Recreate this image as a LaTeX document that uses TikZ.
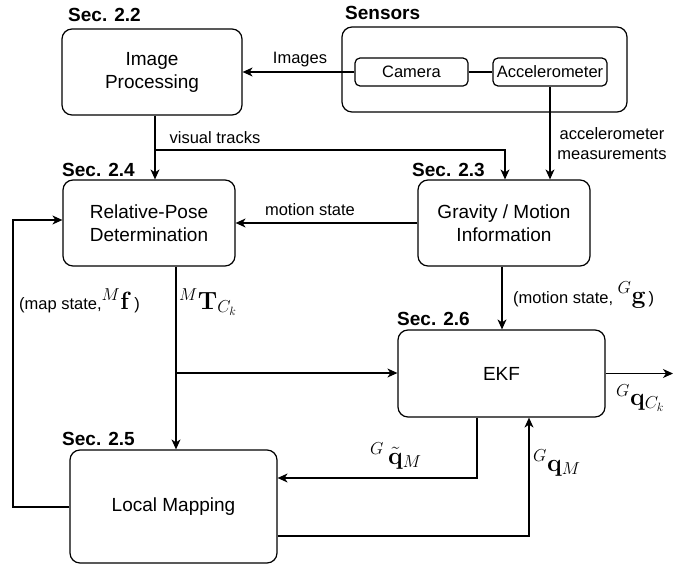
\documentclass[tikz,border=0pt]{standalone}
\usepackage[no-math]{fontspec}
\setmainfont{Liberation Sans}
\usetikzlibrary{arrows.meta,calc}
\newcommand{\boxfont}{\fontsize{19}{23}\selectfont}
\newcommand{\lblfont}{\fontsize{16.5}{20}\selectfont}
\newcommand{\secfont}{\fontsize{19}{23}\selectfont\bfseries}
\newcommand{\mathfont}{\fontsize{24}{28}\selectfont}
\newcommand{\bigmathfont}{\fontsize{27}{30}\selectfont}
\begin{document}
\begin{tikzpicture}[x=1pt,y=-1pt,
  box/.style={draw,line width=1.2pt,rounded corners=10pt,align=center,font=\boxfont,inner sep=0pt},
  smallbox/.style={draw,line width=1.2pt,rounded corners=5pt,align=center,font=\lblfont,inner sep=0pt},
  conn/.style={line width=1.2pt},
  arr/.style={line width=1.2pt,-{Stealth[length=10pt,width=9pt,inset=3pt]}},
  lbl/.style={font=\lblfont,inner sep=0pt,align=center},
  sec/.style={font=\secfont,inner sep=0pt,anchor=west},
  mlbl/.style={font=\mathfont,inner sep=0pt}]
\useasboundingbox (0,0) rectangle (683,568);
% boxes
\node[box,minimum width=180pt,minimum height=86pt] (imgproc) at (152,72) {Image\\Processing};
\node[box,minimum width=285pt,minimum height=85pt] (sensors) at (484.5,69.5) {};
\node[smallbox,minimum width=113pt,minimum height=28pt] (cam) at (411.5,72) {Camera};
\node[smallbox,minimum width=114pt,minimum height=28pt] (acc) at (550,72) {Accelerometer};
\node[box,minimum width=172pt,minimum height=86pt] (relpose) at (149,223) {Relative-Pose\\Determination};
\node[box,minimum width=172pt,minimum height=86pt] (grav) at (504,223) {Gravity / Motion\\Information};
\node[box,minimum width=207pt,minimum height=87pt] (ekf) at (501.5,373.5) {EKF};
\node[box,minimum width=207pt,minimum height=113pt] (locmap) at (173.5,506.5) {Local Mapping};
% section labels
\node[sec] (s22) at (68,15) {Sec. 2.2};
\node[sec] (ssens) at (345,13) {Sensors};
\node[sec] (s24) at (62,170) {Sec. 2.4};
\node[sec] (s23) at (412,170) {Sec. 2.3};
\node[sec] (s26) at (397,319) {Sec. 2.6};
\node[sec] (s25) at (62,439) {Sec. 2.5};
% coordinates
\coordinate (vt) at (155,150);
\coordinate (vtg) at (505,150);
\coordinate (rd) at (176,373);
\coordinate (gd) at (502,300);
\coordinate (loopx) at (13,220);
\coordinate (eb) at (477,478);
\coordinate (lb) at (529,536);
\coordinate (out) at (673,373.5);
% connectors
\draw[arr] (cam.west) -- (imgproc.east);
\draw[conn] (cam.east) -- (acc.west);
\draw[arr] (acc.south) -- (grav.north -| acc.south);
\draw[arr] (imgproc.south -| vt) -- (relpose.north -| vt);
\draw[arr] (vt) -- (vtg) -- (grav.north -| vtg);
\draw[arr] (grav.west) -- (relpose.east);
\draw[arr] (locmap.west |- 0,507) -- (loopx |- 0,507) -- (loopx) -- (relpose.west |- loopx);
\draw[arr] (relpose.south -| rd) -- (locmap.north -| rd);
\draw[arr] (rd) -- (ekf.west |- rd);
\draw[arr] (grav.south -| gd) -- (ekf.north -| gd);
\draw[arr] (ekf.east |- out) -- (out);
\draw[arr] (ekf.south -| eb) -- (eb) -- (locmap.east |- eb);
\draw[arr] (locmap.east |- lb) -- (lb) -- (ekf.south -| lb);
% labels
\node[lbl] (limages) at (300,60) {Images};
\node[lbl] (lvt) at (215,138) {visual tracks};
\node[lbl] (lacc) at (612,144) {accelerometer\\measurements};
\node[lbl] (lms) at (310,210) {motion state};
\node[lbl,anchor=west] (lmap) at (19,301) {(map state,{\bigmathfont$^{M}\mathbf{f}$}\,)};
\node[mlbl,anchor=west] (lT) at (179,302) {$^{M}\mathbf{T}_{C_k}$};
\node[lbl,anchor=west] (lmg) at (513,295) {(motion state, {\bigmathfont$^{G}\mathbf{g}$}\,)};
\node[mlbl,anchor=west] (lqc) at (616,398) {$^{G}\mathbf{q}_{C_k}$};
\node[mlbl,anchor=west] (lqt) at (370,456) {$^{G}\,\tilde{\mathbf{q}}_{M}$};
\node[mlbl,anchor=west] (lqm) at (533,463) {$^{G}\mathbf{q}_{M}$};
\end{tikzpicture}
\end{document}
